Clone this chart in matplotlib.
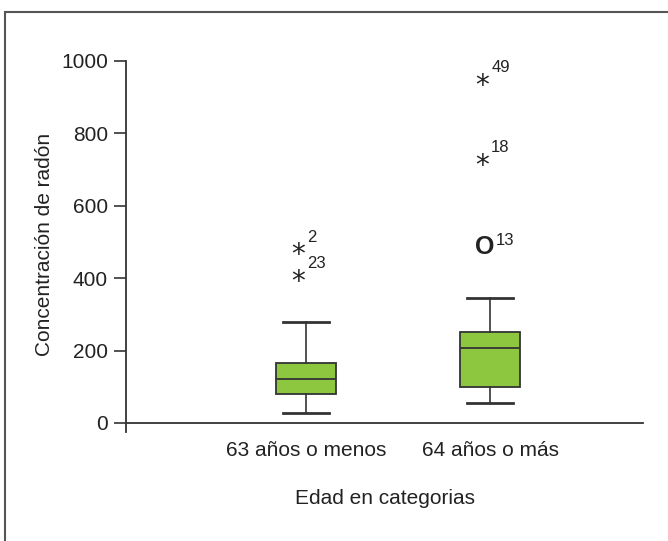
import matplotlib
matplotlib.use("Agg")
import matplotlib.pyplot as plt
from matplotlib.patches import Rectangle

plt.rcParams['font.family'] = ['Liberation Sans', 'DejaVu Sans']

# Categories and five-number summaries of radon concentration
categories = ["63 años o menos", "64 años o más"]
whisker_low = [28, 56]
q1 = [81, 100]
median = [122, 208]
q3 = [165, 250]
whisker_high = [280, 345]

# Outliers: (category index, value, case id, kind) — '*' extreme, 'o' mild
out_group = [0, 0, 1, 1, 1]
out_value = [474, 401, 942, 721, 485]
out_case = ["2", "23", "49", "18", "13"]
out_kind = ["*", "*", "*", "*", "o"]

y_ticks = [0, 200, 400, 600, 800, 1000]

fig = plt.figure(figsize=(6.68, 5.41), dpi=100)
ax = fig.add_axes([126 / 668, 1 - 432 / 541, (643 - 126) / 668, (432 - 61) / 541])

positions = [1, 2]
stats = []
for i in range(len(categories)):
    stats.append(dict(whislo=whisker_low[i], q1=q1[i], med=median[i],
                      q3=q3[i], whishi=whisker_high[i], fliers=[]))

edge = "#333333"
ax.bxp(stats, positions=positions, widths=0.325, capwidths=0.25,
       showfliers=False, patch_artist=True,
       boxprops=dict(facecolor="#8dc63f", edgecolor=edge, linewidth=1.3),
       medianprops=dict(color=edge, linewidth=1.3),
       whiskerprops=dict(color=edge, linewidth=1.2),
       capprops=dict(color=edge, linewidth=2.0))

# Outlier markers with case labels
for g, v, c, k in zip(out_group, out_value, out_case, out_kind):
    x = positions[g]
    if k == "*":
        ax.annotate("*", (x, v), xytext=(-8, -4), textcoords="offset pixels",
                    ha="center", va="center", fontsize=20, color="#222222",
                    family="DejaVu Sans")
        ax.annotate(c, (x, v), xytext=(1, 14), textcoords="offset pixels",
                    ha="left", va="center", fontsize=12, color="#222222")
    else:
        ax.annotate("O", (x, v), xytext=(-5, 0), textcoords="offset pixels",
                    ha="center", va="center", fontsize=18, color="#222222",
                    fontweight="bold")
        ax.annotate(c, (x, v), xytext=(6, 7), textcoords="offset pixels",
                    ha="left", va="center", fontsize=12, color="#222222")

ax.set_xlim(0.022, 2.83)
ax.set_ylim(-25, 1000)
ax.set_yticks(y_ticks)
ax.set_yticklabels([str(t) for t in y_ticks])
ax.set_xticks(positions)
ax.set_xticklabels(categories)
ax.tick_params(axis="x", length=0, pad=13, labelsize=15, labelcolor="#222222")
ax.tick_params(axis="y", length=9, width=1.2, color="#333333", pad=4,
               labelsize=15, labelcolor="#222222")

ax.spines["top"].set_visible(False)
ax.spines["right"].set_visible(False)
ax.spines["bottom"].set_position(("data", 0))
for s in ("left", "bottom"):
    ax.spines[s].set_color("#333333")
    ax.spines[s].set_linewidth(1.3)

fig.text(45 / 668, 1 - 244 / 541, "Concentración de radón", rotation=90,
         ha="center", va="center", fontsize=15, color="#222222")
fig.text(385 / 668, 1 - 499 / 541, "Edad en categorias",
         ha="center", va="center", fontsize=15, color="#222222")

# Frame around the figure
fig.patches.append(Rectangle((5 / 668, -0.1), 1.2, 1 - 12 / 541 + 0.1,
                             transform=fig.transFigure, fill=False,
                             edgecolor="#555555", linewidth=1.5))

fig.savefig("out.png", dpi=100)
